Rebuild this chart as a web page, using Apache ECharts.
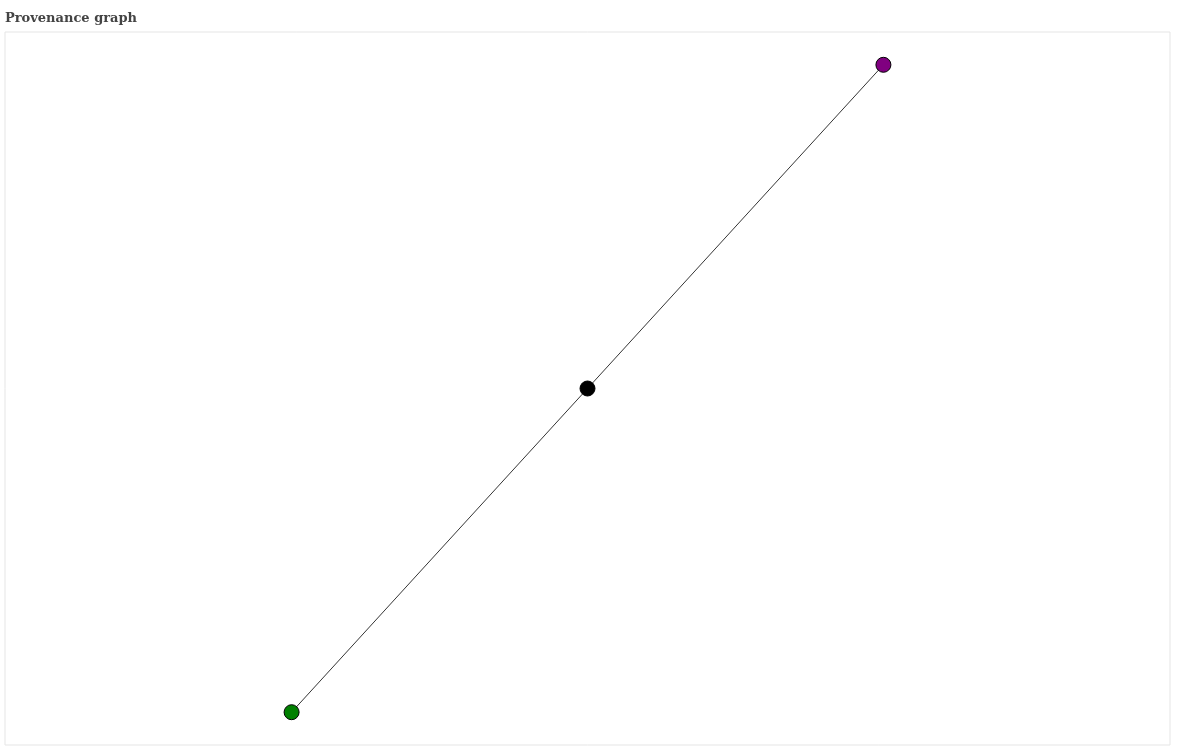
<!DOCTYPE html>
<html lang="en">
<head>
	<meta charset="UTF-8">
	<title>Provenance graph</title>
	<script src="https://cdn.jsdelivr.net/npm/echarts@6/dist/echarts.min.js"></script>
	<style>
		html, body { margin: 0; padding: 0; background: #fff; }
		#chart { width: 1200px; height: 750px; }
	</style>
</head>
<body>
	<div id="chart"></div>
	<script>
		// nodes (layout positions) and edges
		var nodeNames = ['source', 'activity', 'result'];
		var nodeX = [0.246, 0.5, 0.754];
		var nodeY = [0.046, 0.5, 0.954];
		var nodeColors = ['#008000', '#000000', '#800080'];
		var edgeFrom = [0, 1];
		var edgeTo = [1, 2];

		var chart = echarts.init(document.getElementById('chart'));

		var points = nodeNames.map(function (n, i) {
			return { name: n, value: [nodeX[i], nodeY[i]], itemStyle: { color: nodeColors[i] } };
		});
		var edgeSeries = edgeFrom.map(function (f, i) {
			return {
				type: 'line',
				data: [[nodeX[f], nodeY[f]], [nodeX[edgeTo[i]], nodeY[edgeTo[i]]]],
				symbol: 'none',
				lineStyle: { color: '#000', width: 0.8 },
				silent: true,
				z: 1
			};
		});

		chart.setOption({
			animation: false,
			title: {
				text: 'Provenance graph',
				left: 0, top: 7,
				textStyle: { fontFamily: 'DejaVu Serif', fontWeight: 'bold', fontSize: 13, color: '#444' }
			},
			grid: { left: 5, right: 30, top: 32, bottom: 5, show: true, borderColor: '#e5e5e5', borderWidth: 1 },
			xAxis: { type: 'value', min: 0, max: 1, show: false },
			yAxis: { type: 'value', min: 0, max: 1, show: false },
			series: edgeSeries.concat([{
				type: 'scatter',
				data: points,
				symbolSize: 15,
				itemStyle: { borderColor: '#000', borderWidth: 1, opacity: 1 },
				z: 3
			}])
		});
	</script>
</body>
</html>
